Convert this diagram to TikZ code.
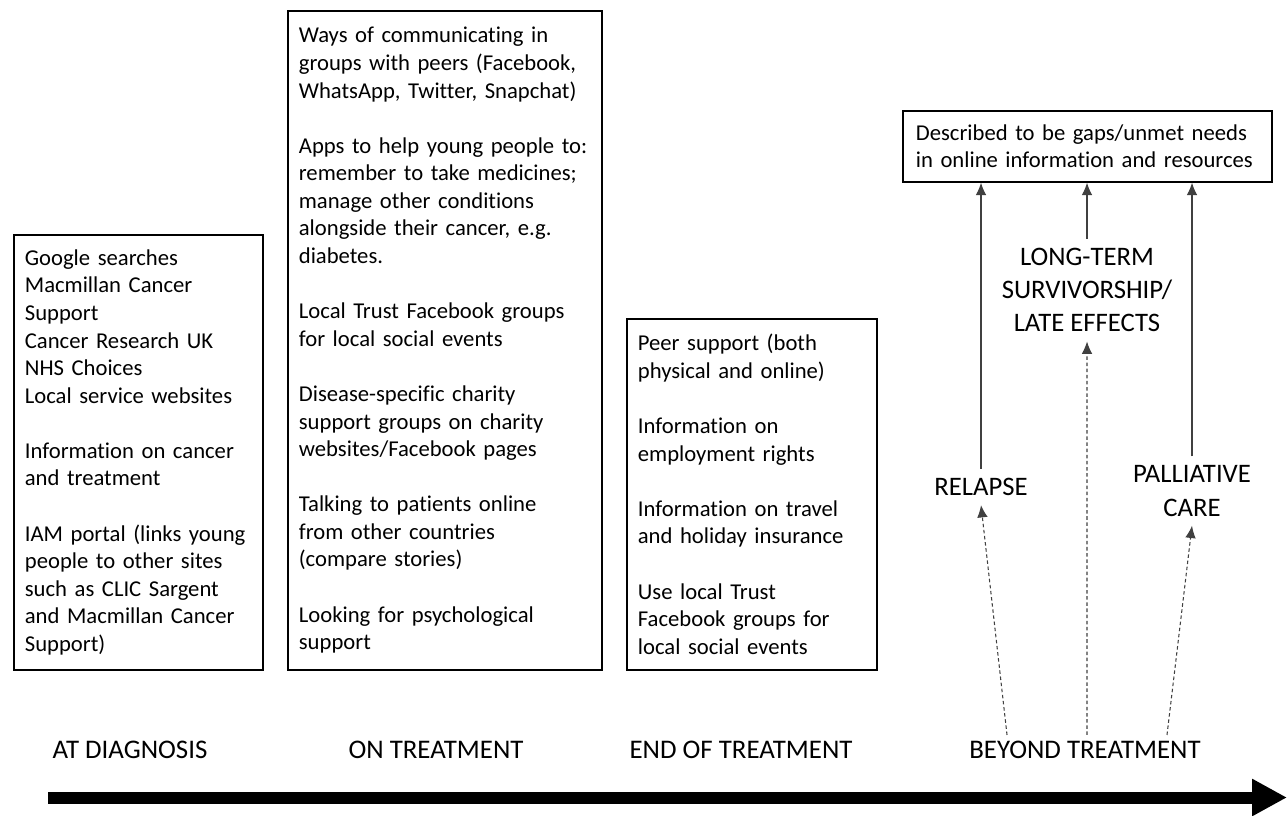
\documentclass[tikz,border=0pt]{standalone}
\usepackage{fontspec}
\setmainfont{Carlito}[Ligatures=NoCommon]
\usetikzlibrary{arrows.meta}

\begin{document}
\begin{tikzpicture}[x=0.02cm, y=-0.02cm,
    infobox/.style={draw, line width=1pt, align=left, anchor=north west, inner xsep=0.22cm, font=\fontsize{12.9}{15.7}\selectfont},
    phase/.style={font=\fontsize{15.3}{18}\selectfont},
    event/.style={align=center, inner sep=0.18cm, font=\fontsize{15.2}{19}\selectfont},
    uparrow/.style={draw=black!75, line width=0.6pt, -{Latex[length=7pt,width=6pt]}},
    dashuparrow/.style={uparrow, dash pattern=on 2pt off 1.5pt}]
    \useasboundingbox (0,0) rectangle (1287,815) ;

    \node[infobox, text width=4.54cm, minimum height=8.7cm] at (13,234) (diagbox)
      {Google searches\\ Macmillan Cancer\\ Support\\ Cancer Research UK\\ NHS Choices\\ Local service websites\\[\baselineskip]
       Information on cancer\\ and treatment\\[\baselineskip]
       IAM portal (links young\\ people to other sites\\ such as CLIC Sargent\\ and Macmillan Cancer\\ Support)} ;
    \node[infobox, text width=5.84cm, minimum height=13.18cm] at (287,10) (treatbox)
      {Ways of communicating in\\ groups with peers (Facebook,\\ WhatsApp, Twitter, Snapchat)\\[\baselineskip]
       Apps to help young people to:\\ remember to take medicines;\\ manage other conditions\\ alongside their cancer, e.g.\\ diabetes.\\[\baselineskip]
       Local Trust Facebook groups\\ for local social events\\[\baselineskip]
       Disease-specific charity\\ support groups on charity\\ websites/Facebook pages\\[\baselineskip]
       Talking to patients online\\ from other countries\\ (compare stories)\\[\baselineskip]
       Looking for psychological\\ support} ;
    \node[infobox, text width=4.56cm, minimum height=7.02cm] at (626,318) (endbox)
      {Peer support (both\\ physical and online)\\[\baselineskip]
       Information on\\ employment rights\\[\baselineskip]
       Information on travel\\ and holiday insurance\\[\baselineskip]
       Use local Trust\\ Facebook groups for\\ local social events} ;
    \node[infobox, inner xsep=0.26cm, text width=6.86cm, minimum height=1.42cm] at (902,110) (gaps)
      {Described to be gaps/unmet needs\\ in online information and resources} ;

    \node[phase] at (130,750) (diag) {AT DIAGNOSIS} ;
    \node[phase] at (436,750) (ontreat) {ON TREATMENT} ;
    \node[phase] at (741,750) (endtreat) {END OF TREATMENT} ;
    \node[phase] at (1085,750) (beyond) {BEYOND TREATMENT} ;

    \node[event] at (981,487) (relapse) {RELAPSE} ;
    \node[event] at (1087,290) (longterm) {LONG-TERM\\ SURVIVORSHIP/\\ LATE EFFECTS} ;
    \node[event] at (1192,491) (palliative) {PALLIATIVE\\ CARE} ;

    \draw[uparrow] (relapse.north) -- (relapse.north |- gaps.south) ;
    \draw[uparrow] (longterm.north) -- (longterm.north |- gaps.south) ;
    \draw[uparrow] (palliative.north) -- (palliative.north |- gaps.south) ;
    \draw[dashuparrow] ([xshift=-1.56cm]beyond.north) -- (relapse.south) ;
    \draw[dashuparrow] ([xshift=0.04cm]beyond.north) -- (longterm.south) ;
    \draw[dashuparrow] ([xshift=1.64cm]beyond.north) -- (palliative.south) ;

    \coordinate (tstart) at (48,797.5) ;
    \coordinate (tend) at (1287,797.5) ;
    \draw[line width=0.24cm, -{Triangle[length=0.7cm,width=0.7cm]}] (tstart) -- (tend) ;
  \end{tikzpicture}
\end{document}
